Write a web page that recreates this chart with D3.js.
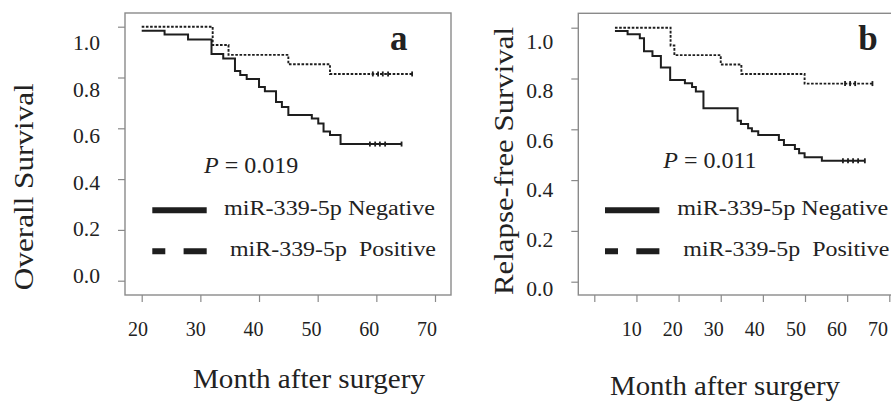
<!DOCTYPE html>
<html><head><meta charset="utf-8">
<script src="https://cdn.jsdelivr.net/npm/d3@7/dist/d3.min.js"></script>
<style>body{margin:0;background:#fff}svg{display:block}</style>
</head><body><svg id="c" width="891" height="402"></svg>
<script>
// ---------- data ----------
const survivalTicks = [0, 0.2, 0.4, 0.6, 0.8, 1.0];
const monthTicksA = [20, 30, 40, 50, 60, 70];
const monthTicksB = [0, 10, 20, 30, 40, 50, 60, 70];
const monthLabelsB = [10, 20, 30, 40, 50, 60, 70];
const groupLabels = ["miR-339-5p Negative", "miR-339-5p  Positive"];

// Panel a: overall survival (step starts, last = end of follow-up)
const osNegTime = [20, 23.9, 27.9, 31.9, 33.9, 35.9, 36.8, 37.9, 40.0, 41.0, 42.9, 43.9, 45.0, 49.0, 50.1, 51.0, 52.1, 53.9, 64.3];
const osNegSurv = [0.984, 0.969, 0.950, 0.893, 0.875, 0.826, 0.810, 0.794, 0.763, 0.746, 0.704, 0.684, 0.652, 0.639, 0.619, 0.587, 0.574, 0.538, 0.538];
const osNegCensor = [58.9, 59.8, 60.6, 61.5];
const osPosTime = [20, 32.1, 34.8, 45.0, 52.1, 66.1];
const osPosSurv = [1.0, 0.928, 0.889, 0.852, 0.814, 0.814];
const osPosCensor = [59.4, 60.3, 61.1, 62.0];

// Panel b: relapse-free survival
const rfsNegTime = [4.9, 7.9, 10.8, 11.8, 13.8, 15.8, 18.0, 21.5, 23.2, 24.1, 25.9, 34.0, 34.8, 36.5, 37.4, 38.9, 43.8, 45.0, 47.6, 48.6, 49.9, 54.0, 64.2];
const rfsNegSurv = [0.987, 0.974, 0.958, 0.907, 0.889, 0.843, 0.794, 0.781, 0.767, 0.749, 0.683, 0.634, 0.621, 0.604, 0.592, 0.578, 0.558, 0.538, 0.522, 0.506, 0.490, 0.476, 0.476];
const rfsNegCensor = [59.0, 60.2, 61.4, 62.6];
const rfsPosTime = [4.9, 18.1, 19.0, 30.0, 34.9, 49.9, 66.0];
const rfsPosSurv = [1.0, 0.930, 0.892, 0.855, 0.818, 0.780, 0.780];
const rfsPosCensor = [59.5, 60.7, 61.9];

const FONT = "'Liberation Serif', 'Times New Roman', Times, Tinos, serif";
const svg = d3.select("#c").attr("font-family", FONT);
svg.append("rect").attr("width", 891).attr("height", 402).attr("fill", "#fff");

const GREY = "#8a8a8a", INK = "#1e1e1e", TXT = "#222";

function txt(g) { return g.append("text").attr("font-family", FONT).attr("fill", TXT); }

function panel(o) {
  const g = svg.append("g");
  const x = d3.scaleLinear().domain(o.xDomain).range(o.xRange);
  const y = d3.scaleLinear().domain([0, 1]).range(o.yRange);
  const xl = d3.scaleLinear().domain(o.xLabDomain).range(o.xLabRange);
  const yl = d3.scaleLinear().domain([0, 1]).range(o.yLabRange);

  // box
  g.append("rect").attr("x", o.box[0]).attr("y", o.box[1])
    .attr("width", o.box[2] - o.box[0]).attr("height", o.box[3] - o.box[1])
    .attr("fill", "none").attr("stroke", GREY).attr("stroke-width", 1.4);

  // y axis ticks
  const ya = g.append("g").attr("transform", `translate(${o.box[0]},0)`)
    .call(d3.axisLeft(y).tickValues(survivalTicks).tickSize(7).tickSizeOuter(0).tickFormat(""));
  ya.select(".domain").remove();
  ya.selectAll("line").attr("stroke", GREY).attr("stroke-width", 1.2);
  // y tick labels
  g.selectAll(".yl").data(survivalTicks).join("text")
    .attr("font-family", FONT).attr("fill", TXT)
    .attr("x", o.box[0] - 25).attr("y", d => yl(d)).attr("dy", "0.35em")
    .attr("text-anchor", "end").attr("font-size", 20)
    .attr("textLength", 27).attr("lengthAdjust", "spacingAndGlyphs")
    .text(d => d.toFixed(1));

  // x axis ticks
  const xa = g.append("g").attr("transform", `translate(0,${o.box[3]})`)
    .call(d3.axisBottom(x).tickValues(o.xTicks).tickSize(7).tickSizeOuter(0).tickFormat(""));
  xa.select(".domain").remove();
  xa.selectAll("line").attr("stroke", GREY).attr("stroke-width", 1.2);
  g.selectAll(".xl").data(o.xLabels).join("text")
    .attr("font-family", FONT).attr("fill", TXT)
    .attr("x", d => xl(d)).attr("y", 336).attr("text-anchor", "middle")
    .attr("font-size", 20).text(d => d);

  // titles
  txt(g).attr("transform", `translate(${o.yTitle[0]},${o.yTitle[1]}) rotate(-90)`)
    .attr("text-anchor", "middle").attr("font-size", 27)
    .attr("textLength", o.yTitle[2]).attr("lengthAdjust", "spacingAndGlyphs").text(o.yTitleText);
  txt(g).attr("x", o.xTitle[0]).attr("y", o.xTitle[1])
    .attr("font-size", 27).attr("textLength", o.xTitle[2]).attr("lengthAdjust", "spacingAndGlyphs")
    .text("Month after surgery");

  // curves
  const line = d3.line().x(d => x(d[0])).y(d => y(d[1])).curve(d3.curveStepAfter);
  const series = [
    {t: o.negT, s: o.negS, c: o.negC, dash: null, w: 2},
    {t: o.posT, s: o.posS, c: o.posC, dash: "2.6,1.6", w: 1.9}
  ];
  series.forEach(sr => {
    const pts = sr.t.map((t, i) => [t, sr.s[i]]);
    g.append("path").attr("d", line(pts)).attr("fill", "none")
      .attr("stroke", INK).attr("stroke-width", sr.w)
      .attr("stroke-dasharray", sr.dash);
    const survAt = t => { let v = sr.s[0]; sr.t.forEach((tt, i) => { if (tt <= t) v = sr.s[i]; }); return v; };
    const marks = sr.c.concat([sr.t[sr.t.length - 1]]);
    g.selectAll(null).data(marks).join("line")
      .attr("x1", d => x(d)).attr("x2", d => x(d))
      .attr("y1", d => y(survAt(d)) - 2.5).attr("y2", d => y(survAt(d)) + 2.5)
      .attr("stroke", INK).attr("stroke-width", 1.8);
  });

  // panel letter
  txt(g).attr("x", o.letter[0]).attr("y", o.letter[1])
    .attr("font-size", 35).attr("font-weight", "bold").text(o.letterText);

  // P value
  const pt = txt(g).attr("x", o.p[0]).attr("y", o.p[1]).attr("font-size", 24);
  pt.append("tspan").attr("font-style", "italic").text("P");
  pt.append("tspan").text(" = " + o.pText);

  // legend
  const lx = o.leg[0];
  g.append("line").attr("x1", lx).attr("x2", lx + 54.4).attr("y1", 210.3).attr("y2", 210.3)
    .attr("stroke", INK).attr("stroke-width", 6);
  g.append("line").attr("x1", lx).attr("x2", lx + 54.4).attr("y1", 251.3).attr("y2", 251.3)
    .attr("stroke", INK).attr("stroke-width", 6).attr("stroke-dasharray", "13,18.3,23.1");
  txt(g).attr("x", o.leg[1]).attr("y", 215).attr("font-size", 20)
    .attr("textLength", 211).attr("lengthAdjust", "spacingAndGlyphs").text(groupLabels[0]);
  txt(g).attr("x", o.leg[2]).attr("y", 256).attr("font-size", 20)
    .attr("textLength", 206).attr("lengthAdjust", "spacingAndGlyphs")
    .style("white-space", "pre").text(groupLabels[1]);
}

panel({
  xDomain: [20, 70], xRange: [141.7, 435], xTicks: monthTicksA,
  xLabDomain: [20, 70], xLabRange: [138, 427], xLabels: monthTicksA,
  yRange: [280.7, 26.7], yLabRange: [276, 43.3],
  box: [125, 13, 451, 295],
  yTitle: [33, 186.7, 207], yTitleText: "Overall Survival",
  xTitle: [193, 388, 232],
  negT: osNegTime, negS: osNegSurv, negC: osNegCensor,
  posT: osPosTime, posS: osPosSurv, posC: osPosCensor,
  letter: [390, 50], letterText: "a",
  p: [204, 173.3], pText: "0.019",
  leg: [152.3, 224, 230]
});

panel({
  xDomain: [0, 70], xRange: [594.3, 889.3], xTicks: monthTicksB,
  xLabDomain: [10, 70], xLabRange: [631.7, 878], xLabels: monthLabelsB,
  yRange: [281.7, 27.7], yLabRange: [289, 41.7],
  box: [578.3, 13.3, 905, 295],
  yTitle: [513, 161, 268], yTitleText: "Relapse-free Survival",
  xTitle: [610, 395, 230],
  negT: rfsNegTime, negS: rfsNegSurv, negC: rfsNegCensor,
  posT: rfsPosTime, posS: rfsPosSurv, posC: rfsPosCensor,
  letter: [858.3, 50], letterText: "b",
  p: [663.3, 168.3], pText: "0.011",
  leg: [605, 677.3, 683.3]
});
</script></body></html>
